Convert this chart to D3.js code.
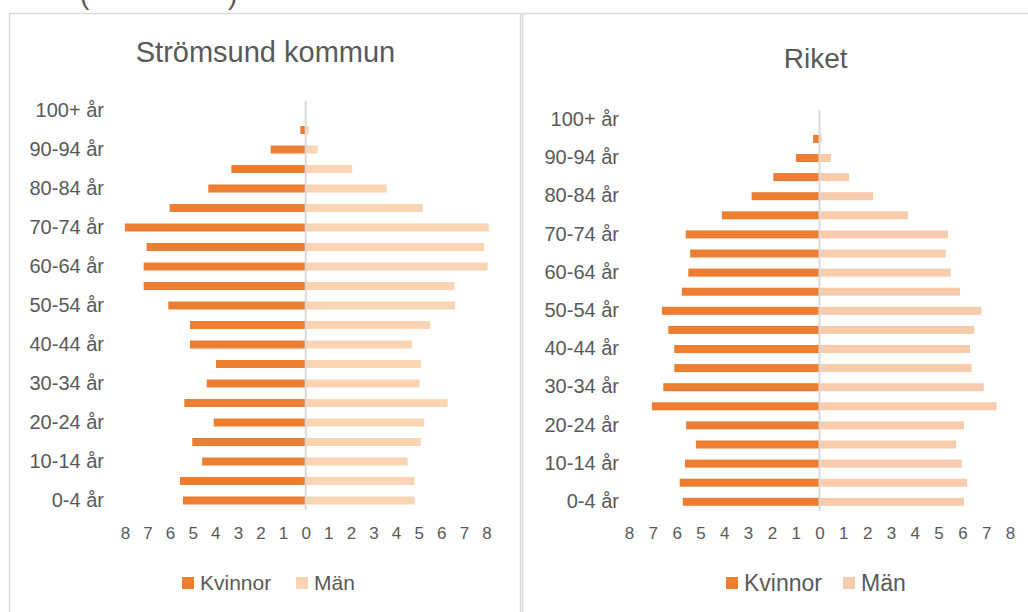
<!DOCTYPE html>
<html><head><meta charset="utf-8">
<script src="https://cdn.jsdelivr.net/npm/d3@7"></script>
<style>
html,body{margin:0;padding:0;background:#fff;}
svg{display:block;}
text{font-family:"Liberation Sans",Arial,sans-serif;fill:#595959;}
</style></head>
<body>
<svg id="chart" width="1028" height="612"></svg>
<script>
const ageGroups = ["0-4 år","5-9 år","10-14 år","15-19 år","20-24 år","25-29 år","30-34 år","35-39 år","40-44 år","45-49 år","50-54 år","55-59 år","60-64 år","65-69 år","70-74 år","75-79 år","80-84 år","85-89 år","90-94 år","95-99 år","100+ år"];
const xTicks = [-8,-7,-6,-5,-4,-3,-2,-1,0,1,2,3,4,5,6,7,8];
const legendLabels = ["Kvinnor","Män"];

const stromsundKvinnor = [5.43,5.56,4.58,5.02,4.07,5.37,4.38,3.97,5.12,5.12,6.08,7.17,7.17,7.04,8.0,6.02,4.31,3.29,1.55,0.24,0];
const stromsundMan     = [4.82,4.81,4.51,5.09,5.25,6.28,5.04,5.09,4.70,5.50,6.61,6.58,8.05,7.89,8.1,5.18,3.58,2.06,0.53,0.13,0];
const riketKvinnor     = [5.74,5.87,5.65,5.19,5.60,7.04,6.56,6.10,6.10,6.35,6.62,5.78,5.51,5.43,5.62,4.10,2.85,1.94,0.99,0.27,0.02];
const riketMan         = [6.07,6.20,5.97,5.74,6.07,7.43,6.90,6.39,6.32,6.50,6.80,5.90,5.51,5.30,5.39,3.72,2.25,1.24,0.48,0.09,0];

const svg = d3.select("#chart");

// cut-off text at the very top (only its lower edge is visible in the reference)
svg.append("text").attr("x",80).attr("y",4).style("font-size","28px").text("(");
svg.append("text").attr("x",228).attr("y",4).style("font-size","28px").text(")");

// panel borders
svg.append("rect").attr("x",9.5).attr("y",13.5).attr("width",511).attr("height",620)
  .attr("fill","none").attr("stroke","#D9D9D9").attr("stroke-width",1.5);
svg.append("rect").attr("x",522.5).attr("y",13.5).attr("width",520).attr("height",620)
  .attr("fill","none").attr("stroke","#D9D9D9").attr("stroke-width",1.5);

function panel(cfg){
  const g = svg.append("g");
  const x = d3.scaleLinear().domain([-8,8]).range(cfg.xRange);
  const y = d3.scalePoint().domain(ageGroups).range([cfg.yBottom, cfg.yTop]);
  const bh = 8;
  const rows = ageGroups.map((a,i)=>({a, k:cfg.kv[i], m:cfg.man[i]}));

  g.append("text").attr("x",cfg.titleX).attr("y",cfg.titleY)
    .attr("text-anchor","middle").style("font-size",cfg.titleSize+"px").text(cfg.title);

  g.selectAll("rect.kv").data(rows).join("rect").attr("class","kv")
    .attr("x",d=>x(-d.k)).attr("width",d=>x(0)-x(-d.k))
    .attr("y",d=>y(d.a)-bh/2+cfg.barOff).attr("height",bh).attr("fill","#ED7D31");
  g.selectAll("rect.man").data(rows).join("rect").attr("class","man")
    .attr("x",x(0)).attr("width",d=>x(d.m)-x(0))
    .attr("y",d=>y(d.a)-bh/2+cfg.barOff).attr("height",bh).attr("fill",cfg.manColor);

  // zero line
  g.append("line").attr("x1",x(0)).attr("x2",x(0)).attr("y1",cfg.zeroTop).attr("y2",cfg.zeroBottom)
    .attr("stroke","#D9D9D9").attr("stroke-width",2);

  // category labels (every second)
  const yAxis = d3.axisLeft(y).tickSize(0).tickPadding(0)
    .tickValues(ageGroups.filter((d,i)=>i%2===0));
  const ya = g.append("g").attr("transform",`translate(${cfg.labelX},0)`).call(yAxis);
  ya.select(".domain").remove();
  ya.selectAll("text").style("font-size",cfg.labelSize+"px").attr("fill","#595959")
    .style("font-family","Liberation Sans, Arial, sans-serif");

  // x tick labels (absolute values)
  const xAxis = d3.axisBottom(x).tickValues(xTicks).tickSize(0).tickPadding(0)
    .tickFormat(d=>Math.abs(d));
  const xa = g.append("g").attr("transform",`translate(0,${cfg.tickY})`).call(xAxis);
  xa.select(".domain").remove();
  xa.selectAll("text").style("font-size",cfg.tickSize+"px").attr("fill","#595959")
    .style("font-family","Liberation Sans, Arial, sans-serif");

  // legend
  const lg = g.append("g");
  const colors = ["#ED7D31", cfg.manColor];
  lg.selectAll("rect").data(legendLabels).join("rect")
    .attr("x",(d,i)=>cfg.legX[i]).attr("y",cfg.legY-6).attr("width",12).attr("height",12)
    .attr("fill",(d,i)=>colors[i]);
  lg.selectAll("text").data(legendLabels).join("text")
    .attr("x",(d,i)=>cfg.legX[i]+18).attr("y",cfg.legY).attr("dy","0.35em")
    .style("font-size",cfg.legSize+"px").text(d=>d);
}

panel({
  title:"Strömsund kommun", titleX:265.5, titleY:62, titleSize:29,
  xRange:[124.9,486.5], yTop:110, yBottom:500, barOff:0.5,
  kv:stromsundKvinnor, man:stromsundMan, manColor:"#FBD4B4",
  zeroTop:101, zeroBottom:510, labelX:104, labelSize:20,
  tickY:527, tickSize:17, legX:[182,296], legY:583, legSize:21
});
panel({
  title:"Riket", titleX:815.7, titleY:68, titleSize:28,
  xRange:[629,1010], yTop:119, yBottom:501, barOff:0.8,
  kv:riketKvinnor, man:riketMan, manColor:"#F8CBAD",
  zeroTop:110, zeroBottom:511, labelX:619, labelSize:20,
  tickY:527, tickSize:17, legX:[726,843], legY:583, legSize:23
});
</script>
</body></html>
